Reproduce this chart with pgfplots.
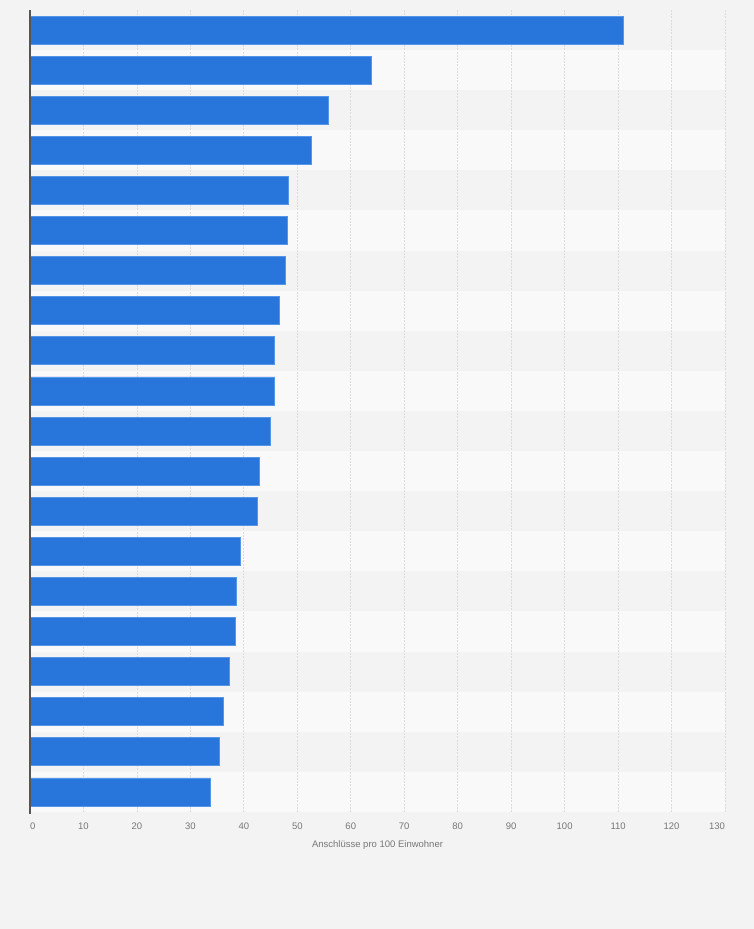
\documentclass[border=0pt]{standalone}
\usepackage{fontspec}
\setmainfont{Liberation Sans}
\usepackage{pgfplots}
\pgfplotsset{compat=1.18}
\definecolor{bgc}{HTML}{F3F3F3}
\definecolor{stripeL}{HTML}{F9F9F9}
\definecolor{barc}{RGB}{40,118,220}
\definecolor{barb}{RGB}{85,150,235}
\definecolor{gridc}{HTML}{DBDBDB}
\definecolor{txtc}{HTML}{777777}
\definecolor{axc}{HTML}{555555}
\begin{document}
\begin{tikzpicture}
\fill[bgc] (0,0) rectangle (754pt,929pt);
\begin{axis}[
  at={(30pt,117pt)}, anchor=south west,
  scale only axis, width=695pt, height=802pt,
  xmin=0, xmax=130, ymin=0.5, ymax=20.5,
  xtick={0,10,...,130}, ytick=\empty,
  xticklabels={\hspace*{5.4pt}0,10,20,30,40,50,60,70,80,90,100,110,120,130\hspace*{16pt}},
  major tick length=0pt,
  axis line style={draw=none},
  xticklabel style={font=\fontsize{9.5}{11}\selectfont, text=txtc, anchor=base, yshift=-18pt},
  xlabel={Anschlüsse pro 100 Einwohner},
  xlabel style={font=\fontsize{9.5}{11}\selectfont, text=txtc, at={(axis description cs:0.5,0)}, anchor=base, yshift=-35.5pt},
  xbar, bar width=0.7, bar shift=0pt,
  clip=false,
]
\pgfplotsinvokeforeach{2,4,...,20}{
  \fill[stripeL] (axis cs:0,#1-1.5) rectangle (axis cs:130,#1-0.5);
}
\pgfplotsinvokeforeach{10,20,...,130}{
  \draw[gridc, line width=0.8pt, dash pattern=on 2pt off 1.2pt] (axis cs:#1,0.5) -- (axis cs:#1,20.5);
}
\addplot[fill=barc, draw=barb, line width=0.8pt] coordinates {
(111.0,20) (63.8,19) (55.9,18) (52.7,17) (48.4,16)
(48.2,15) (47.8,14) (46.7,13) (45.8,12) (45.8,11)
(45.0,10) (42.9,9) (42.6,8) (39.4,7) (38.6,6)
(38.4,5) (37.3,4) (36.2,3) (35.4,2) (33.75,1)
};
\draw[axc, line width=1.3pt] (axis cs:0,0.45) -- (axis cs:0,20.5);
\end{axis}
\end{tikzpicture}
\end{document}
